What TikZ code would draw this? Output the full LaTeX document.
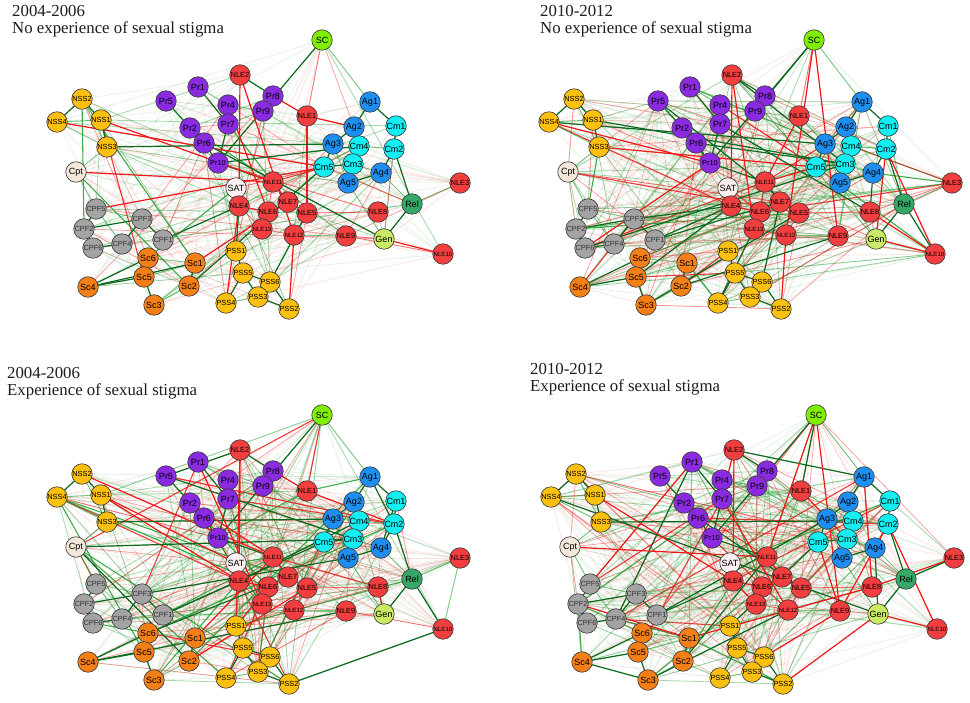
\documentclass[tikz,border=0pt]{standalone}
\usepackage{fontspec}
\usetikzlibrary{backgrounds}
\pgfdeclarelayer{bottom}
\pgfsetlayers{bottom,background,main}
\newfontfamily\labfont{Liberation Sans}
\newfontfamily\ttlfont{Liberation Serif}
\definecolor{cgold}{HTML}{FDC00E}
\definecolor{cpurple}{HTML}{8A2BE2}
\definecolor{cnle}{HTML}{F23E3E}
\definecolor{csc}{HTML}{80EE00}
\definecolor{cag}{HTML}{1E8FF0}
\definecolor{ccm}{HTML}{12EEF2}
\definecolor{ccpt}{HTML}{F3E9DB}
\definecolor{csat}{HTML}{FCF0F0}
\definecolor{ccpf}{HTML}{A3A3A3}
\definecolor{corange}{HTML}{F57F17}
\definecolor{crel}{HTML}{35A865}
\definecolor{cgen}{HTML}{C9EA62}
\definecolor{ndborder}{HTML}{3A3A3A}
\definecolor{cgreen}{HTML}{1E9E2E}
\definecolor{cdkgreen}{HTML}{0B6A1E}
\definecolor{cred}{HTML}{F01818}
\definecolor{ctitle}{HTML}{1E1E1E}
\tikzset{
  ndbase/.style={circle, draw=ndborder, line width=0.6pt, minimum size=20.5pt, inner sep=0pt, text=black},
  ndnss/.style={ndbase, fill=cgold},
  ndpr/.style={ndbase, fill=cpurple},
  ndnle/.style={ndbase, fill=cnle},
  ndsc/.style={ndbase, fill=csc},
  ndag/.style={ndbase, fill=cag},
  ndcm/.style={ndbase, fill=ccm},
  ndcpt/.style={ndbase, fill=ccpt},
  ndsat/.style={ndbase, fill=csat},
  ndcpf/.style={ndbase, fill=ccpf, text=black!80},
  ndor/.style={ndbase, fill=corange},
  ndrel/.style={ndbase, fill=crel},
  ndgen/.style={ndbase, fill=cgen},
  fthree/.style={font=\labfont\fontsize{9}{9}\selectfont},
  ffour/.style={font=\labfont\fontsize{7.4}{8}\selectfont},
  ffive/.style={font=\labfont\fontsize{6.1}{6}\selectfont},
  egs/.style={draw=cdkgreen, line width=1.2pt},
  egm/.style={draw=cgreen, line width=0.9pt, draw opacity=0.6},
  ers/.style={draw=cred, line width=1.2pt},
  erm/.style={draw=cred, line width=0.9pt, draw opacity=0.6},
  ttl/.style={font=\ttlfont\fontsize{16.8}{20}\selectfont, inner sep=0pt, anchor=base west, text=ctitle}
}
\def\NL{{"NSS2","NSS4","NSS1","NSS3","Cpt","Pr5","Pr1","Pr4","Pr7","Pr2","Pr6","Pr10","NLE2","SC","Pr8","Pr9","NLE1","Ag1","Ag2","Cm1","Ag3","Cm4","Cm2","Cm5","Cm3","Ag4","Ag5","NLE3","Rel","NLE8","SAT","NLE11","NLE4","NLE7","NLE6","NLE5","NLE13","NLE12","NLE9","Gen","NLE10","PSS1","PSS5","PSS6","PSS3","PSS2","PSS4","CPF5","CPF3","CPF2","CPF6","CPF4","CPF1","Sc6","Sc1","Sc5","Sc4","Sc2","Sc3"}}
\newcommand\placenodes[3]{%
  \begin{scope}[shift={(#2,#3)}]
  \foreach \n/\x/\y/\s/\f in {NSS2/82/99/ndnss/ffour, NSS4/57/122/ndnss/ffour, NSS1/101/120/ndnss/ffour, NSS3/107/147/ndnss/ffour, Cpt/76/172/ndcpt/fthree, Pr5/166/101/ndpr/fthree, Pr1/198/87/ndpr/fthree, Pr4/228/105/ndpr/fthree, Pr7/228/124/ndpr/fthree, Pr2/190/128/ndpr/fthree, Pr6/204/143/ndpr/fthree, Pr10/218/163/ndpr/ffour, NLE2/240/75/ndnle/ffour, SC/322/40/ndsc/fthree, Pr8/273/96/ndpr/fthree, Pr9/263/111/ndpr/fthree, NLE1/307/116/ndnle/ffour, Ag1/370/102/ndag/fthree, Ag2/354/127/ndag/fthree, Cm1/396/126/ndcm/fthree, Ag3/333/144/ndag/fthree, Cm4/359/146/ndcm/fthree, Cm2/394/149/ndcm/fthree, Cm5/324/167/ndcm/fthree, Cm3/353/164/ndcm/fthree, Ag4/381/173/ndag/fthree, Ag5/348/183/ndag/fthree, NLE3/460/183/ndnle/ffour, Rel/412/204/ndrel/fthree, NLE8/378/212/ndnle/ffour, SAT/236/188/ndsat/fthree, NLE11/273/182/ndnle/ffive, NLE4/239/206/ndnle/ffour, NLE7/288/202/ndnle/ffour, NLE6/268/212/ndnle/ffour, NLE5/307/213/ndnle/ffour, NLE13/262/229/ndnle/ffive, NLE12/294/235/ndnle/ffive, NLE9/346/236/ndnle/ffour, Gen/384/239/ndgen/fthree, NLE10/443/254/ndnle/ffive, PSS1/236/251/ndnss/ffour, PSS5/243/273/ndnss/ffour, PSS6/270/282/ndnss/ffour, PSS3/258/297/ndnss/ffour, PSS2/289/309/ndnss/ffour, PSS4/226/303/ndnss/ffour, CPF5/96/209/ndcpf/ffour, CPF3/142/219/ndcpf/ffour, CPF2/84/229/ndcpf/ffour, CPF6/93/248/ndcpf/ffour, CPF4/122/244/ndcpf/ffour, CPF1/163/240/ndcpf/ffour, Sc6/148/258/ndor/fthree, Sc1/195/263/ndor/fthree, Sc5/144/277/ndor/fthree, Sc4/88/287/ndor/fthree, Sc2/189/286/ndor/fthree, Sc3/154/305/ndor/fthree}{%
    \node[\s,\f] (#1-\n) at (\x,\y) {\n};}
  \end{scope}}
\newcommand\randedges[4]{% prefix, count, seed, red threshold
  \pgfmathsetseed{#3}%
  \foreach \k in {1,...,#2}{%
    \pgfmathrandominteger{\ra}{0}{58}%
    \pgfmathrandominteger{\rb}{0}{58}%
    \pgfmathrandominteger{\rc}{0}{99}%
    \pgfmathrandominteger{\rs}{0}{99}%
    \ifnum\ra=\rb\relax\else
      \pgfmathparse{\NL[\ra]}\edef\na{\pgfmathresult}%
      \pgfmathparse{\NL[\rb]}\edef\nb{\pgfmathresult}%
      \ifnum\rc<#4 \def\ec{cgreen}\else\def\ec{cred}\fi
      \ifnum\rs<72 \def\eo{0.13}\def\ew{0.7pt}\else\ifnum\rs<96 \def\eo{0.4}\def\ew{0.8pt}\else\def\eo{0.85}\def\ew{1.1pt}\fi\fi
      \draw[draw=\ec, draw opacity=\eo, line width=\ew] (#1-\na.center) -- (#1-\nb.center);
    \fi}}
\newcommand\drawedges[2]{\foreach \ea/\eb/\es in #2 {\draw[\es] (#1-\ea.center) -- (#1-\eb.center);}}
\def\commonedges{NSS2/NSS1/egs, NSS2/NSS4/egs, NSS1/NSS3/egs, NSS2/NSS3/egm, NSS4/NSS3/egm, NSS4/NSS1/egm, Cpt/NSS3/egm, Cpt/CPF5/egm, Pr1/Pr7/egs, Pr4/Pr7/egs, Pr5/Pr6/egs, Pr2/Pr6/egs, Pr6/Pr10/egs, Pr7/Pr10/egs, Pr8/Pr9/egs, Pr1/Pr4/egm, Pr5/Pr2/egm, Pr8/NLE2/egs, Pr9/Pr7/egm, Pr4/Pr9/egm, Ag1/Cm1/egs, Ag1/Ag2/egs, Ag2/Ag3/egs, Cm1/Cm2/egs, Cm4/Cm3/egs, Cm5/Cm3/egs, Cm5/Ag3/egs, Ag4/Ag5/egs, Cm2/Ag4/egs, Ag2/Cm4/egm, Cm3/Ag5/egs, Cm4/Cm2/egm, Ag3/Ag5/egm, Cm3/Ag4/egm, Rel/Gen/egs, Rel/Cm2/egs, Rel/NLE3/egm, Ag5/Gen/egm, Rel/Ag4/egm, CPF2/CPF5/egs, CPF2/CPF6/egs, CPF2/CPF3/egs, CPF3/CPF4/egs, CPF4/CPF6/egs, CPF3/CPF1/egs, CPF5/CPF4/egm, CPF5/CPF3/egm, CPF1/NLE4/egs, Sc6/Sc5/egs, Sc5/Sc4/egs, Sc5/Sc3/egs, Sc1/Sc2/egs, Sc4/Sc6/egs, Sc2/Sc3/egm, Sc1/Sc5/egm, Sc6/Sc1/egm, PSS1/PSS5/egs, PSS5/PSS6/egs, PSS5/PSS3/egs, PSS6/PSS2/egs, PSS3/PSS2/egs, PSS4/PSS5/egs, PSS6/PSS3/egs, PSS4/PSS3/egm, NLE4/NLE6/ers, NLE6/NLE7/erm, NLE7/NLE5/erm, NLE11/NLE7/ers, NLE13/NLE12/erm, NLE12/NLE5/erm, NLE9/NLE12/egm, NLE8/NLE5/erm, NLE4/NLE13/erm, NLE11/NLE6/erm, Pr10/NLE11/egs, SC/Pr10/egs, SC/Ag1/egm, SC/NLE1/erm, NLE2/NLE4/ers}
\def\crossA{NSS4/Cm5/ers, NSS1/NLE11/ers, Cpt/NLE11/ers, CPF5/Cm5/ers, NLE2/NLE12/ers, Pr4/NLE6/ers, Gen/NLE10/ers, NLE1/Ag2/ers, Pr8/NLE1/ers, NLE12/PSS2/ers, NLE4/PSS4/ers, Pr10/NLE8/erm, SAT/Cm5/erm, Sc1/NLE7/ers, NLE1/NLE5/ers, NLE9/Gen/erm, Pr6/Gen/egs, NLE4/PSS1/egs, Sc4/Sc1/egs, NLE5/PSS6/egs, NLE11/NLE9/egm, Cm5/Sc2/egs, NSS3/Ag3/egs, Pr10/Cm4/egs, NLE9/NLE10/erm}
\def\crossB{NSS3/Cm5/ers, NSS4/Ag3/egs, NSS1/Cm3/egs, Pr10/CPF6/ers, Pr5/NLE5/egs, Pr6/Cm3/egs, Cpt/NLE7/erm, SC/NLE9/ers, SC/NLE12/ers, SC/Pr9/egs, NLE2/NLE13/ers, NLE2/Cm3/egs, Ag1/NLE9/egm, Cm2/NLE10/ers, NLE8/NLE10/ers, Gen/NLE10/ers, Rel/NLE10/egs, Rel/Cm1/egm, NLE3/NLE8/erm, Cm2/Gen/ers, Ag4/NLE8/egs, NLE11/Cm5/ers, Sc5/NLE4/egs, Sc3/NLE5/egs, CPF1/NLE7/egs, CPF3/NLE4/egs, PSS2/NLE12/ers, PSS6/NLE7/egs, PSS4/NLE13/egs, Pr7/NLE8/egs, NSS4/Pr10/ers, CPF6/Cm3/egs, Sc2/NLE9/egs, NLE1/NLE11/ers}
\def\crossC{NSS1/SAT/ers, NSS1/NLE4/ers, NSS3/Ag3/egs, Cpt/Cm3/egs, Cpt/Sc2/egs, Pr1/NLE13/ers, Pr2/NLE11/ers, NLE2/PSS1/ers, NLE2/Pr5/egs, SC/NLE1/erm, Pr8/NLE1/ers, NLE1/Cm2/ers, Ag1/Cm2/egs, Ag2/NLE5/egm, Cm1/Ag4/egs, NLE3/NLE10/egm, Rel/NLE10/egs, NLE9/NLE10/erm, Gen/NLE8/ers, CPF1/Cm5/egs, CPF4/NLE12/egm, Sc4/NLE9/egs, Sc2/NLE5/ers, Sc1/NLE11/ers, PSS2/NLE10/egs, PSS4/NLE9/erm, PSS1/NLE6/ers, NSS2/NLE11/ers, Pr5/Cm3/egs, CPF3/Ag5/egs, Sc6/NLE7/egs, NLE4/Cm4/egs}
\def\crossD{NLE2/Ag1/egs, NLE2/Pr7/ers, SC/NLE9/ers, SC/NLE11/ers, SC/NLE1/egs, Pr1/CPF5/ers, Pr1/CPF4/egs, NSS4/Gen/egs, NSS1/NLE4/ers, Cpt/NLE11/ers, NLE1/Cm3/ers, Ag1/NLE8/ers, Cm2/NLE9/ers, Ag4/Gen/egs, NLE3/Rel/egs, NLE10/Cm2/ers, NLE10/Gen/ers, NLE8/NLE3/ers, NLE9/Cm5/ers, Sc1/NLE8/ers, Sc3/NLE12/egs, Sc4/Sc3/egs, PSS6/NLE9/ers, PSS2/Gen/ers, NLE4/NLE13/ers, CPF2/Sc1/ers, NSS3/Cm4/egs, Pr6/NLE5/egs, CPF1/Ag3/egs, PSS1/Cm5/egs, Sc2/NLE11/egs, Pr7/NLE12/ers}
\begin{document}
\begin{tikzpicture}[x=1pt,y=-1pt]
  \begin{pgfonlayer}{bottom}
    \fill[white] (0,0) rectangle (970,703);
  \end{pgfonlayer}
  \useasboundingbox (0,0) rectangle (970,703);
  \node[ttl] (ta1) at (12,17) {2004-2006};
  \node[ttl] (ta2) at (12,34) {No experience of sexual stigma};
  \node[ttl] (tb1) at (540,17) {2010-2012};
  \node[ttl] (tb2) at (540,34) {No experience of sexual stigma};
  \node[ttl] (tc1) at (7,379) {2004-2006};
  \node[ttl] (tc2) at (7,396) {Experience of sexual stigma};
  \node[ttl] (td1) at (530,375) {2010-2012};
  \node[ttl] (td2) at (530,392) {Experience of sexual stigma};
  \placenodes{a}{0}{0}
  \placenodes{b}{492}{0}
  \placenodes{c}{0}{375}
  \placenodes{d}{494}{375}
  \begin{pgfonlayer}{background}
    \randedges{a}{300}{11}{60}
    \randedges{b}{600}{23}{57}
    \randedges{c}{580}{37}{55}
    \randedges{d}{620}{41}{57}
    \drawedges{a}{\commonedges}
    \drawedges{b}{\commonedges}
    \drawedges{c}{\commonedges}
    \drawedges{d}{\commonedges}
    \drawedges{a}{\crossA}
    \drawedges{b}{\crossB}
    \drawedges{c}{\crossC}
    \drawedges{d}{\crossD}
  \end{pgfonlayer}
\end{tikzpicture}
\end{document}
